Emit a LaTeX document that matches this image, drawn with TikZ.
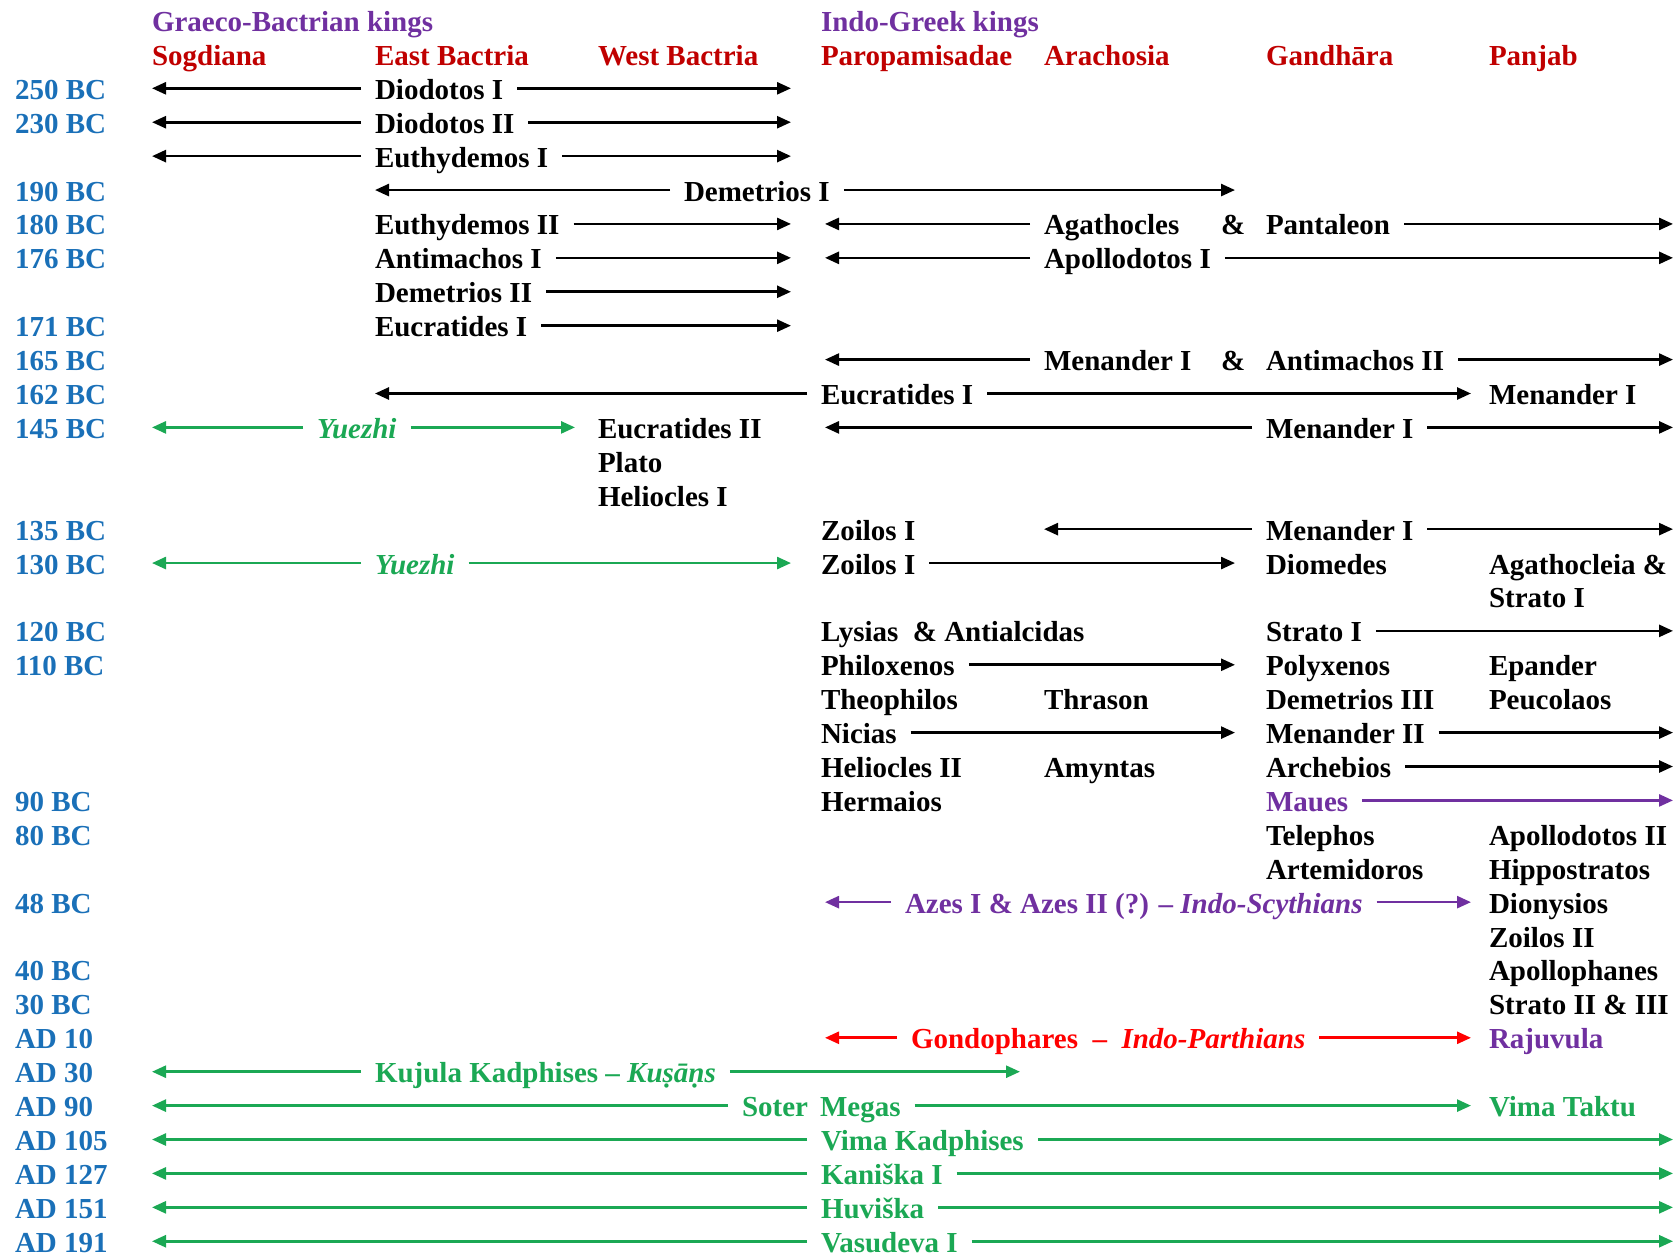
\documentclass[tikz,border=0pt]{standalone}
\usepackage{fontspec}
\setmainfont{Liberation Serif}
\usetikzlibrary{arrows.meta}
\definecolor{dateblue}{HTML}{1A70B8}
\definecolor{hdrred}{HTML}{C00000}
\definecolor{kpurple}{HTML}{7030A0}
\definecolor{kgreen}{HTML}{1BA854}
\definecolor{kred}{HTML}{FF0000}
\begin{document}
\begin{tikzpicture}[
  x=1pt, y=-33.91pt,
  every node/.style={inner sep=0pt, outer sep=0pt, text height=24pt, text depth=2pt,
    font=\fontsize{29}{35}\selectfont\bfseries, anchor=west},
  date/.style={text=dateblue},
  hdr/.style={text=hdrred},
  grp/.style={text=kpurple},
  gtxt/.style={text=kgreen},
  ptxt/.style={text=kpurple},
  rtxt/.style={text=kred},
  itx/.style={font=\fontsize{29}{35}\selectfont\bfseries\itshape},
  arr/.style={-{Triangle[length=14pt,width=12pt]}, line width=2.6pt, shorten <=14pt},
  garr/.style={arr, draw=kgreen},
  parr/.style={arr, draw=kpurple},
  rarr/.style={arr, draw=kred}
]
\path[use as bounding box] (0pt,0pt) rectangle (1680pt,-1256pt);
\begin{scope}[yshift=-88.3pt]
% arrow tip x positions
\coordinate (xA) at (152,0);
\coordinate (xB) at (375,0);
\coordinate (xC) at (575,0);
\coordinate (xD) at (791,0);
\coordinate (xE) at (825,0);
\coordinate (xF) at (1020,0);
\coordinate (xG) at (1044,0);
\coordinate (xH) at (1235,0);
\coordinate (xI) at (1471,0);
\coordinate (xJ) at (1673,0);

% headers
\node[grp] (hgb) at (152,-2) {Graeco-Bactrian kings};
\node[grp] (hig) at (821,-2) {Indo-Greek kings};
\node[hdr] (hso) at (152,-1) {Sogdiana};
\node[hdr] (heb) at (375,-1) {East Bactria};
\node[hdr] (hwb) at (598,-1) {West Bactria};
\node[hdr] (hpa) at (821,-1) {Paropamisadae};
\node[hdr] (har) at (1044,-1) {Arachosia};
\node[hdr] (hga) at (1266,-1) {Gandhāra};
\node[hdr] (hpj) at (1489,-1) {Panjab};

% dates
\node[date] (d0) at (15,0) {250 BC};
\node[date] (d1) at (15,1) {230 BC};
\node[date] (d3) at (15,3) {190 BC};
\node[date] (d4) at (15,4) {180 BC};
\node[date] (d5) at (15,5) {176 BC};
\node[date] (d7) at (15,7) {171 BC};
\node[date] (d8) at (15,8) {165 BC};
\node[date] (d9) at (15,9) {162 BC};
\node[date] (d10) at (15,10) {145 BC};
\node[date] (d13) at (15,13) {135 BC};
\node[date] (d14) at (15,14) {130 BC};
\node[date] (d16) at (15,16) {120 BC};
\node[date] (d17) at (15,17) {110 BC};
\node[date] (d21) at (15,21) {90 BC};
\node[date] (d22) at (15,22) {80 BC};
\node[date] (d24) at (15,24) {48 BC};
\node[date] (d26) at (15,26) {40 BC};
\node[date] (d27) at (15,27) {30 BC};
\node[date] (d28) at (15,28) {AD 10};
\node[date] (d29) at (15,29) {AD 30};
\node[date] (d30) at (15,30) {AD 90};
\node[date] (d31) at (15,31) {AD 105};
\node[date] (d32) at (15,32) {AD 127};
\node[date] (d33) at (15,33) {AD 151};
\node[date] (d34) at (15,34) {AD 191};

% rows 0-2
\node (a0) at (375,0) {Diodotos I};
\draw[arr] (a0.west) -- (a0.west -| xA);
\draw[arr] (a0.east) -- (a0.east -| xD);
\node (a1) at (375,1) {Diodotos II};
\draw[arr] (a1.west) -- (a1.west -| xA);
\draw[arr] (a1.east) -- (a1.east -| xD);
\node (a2) at (375,2) {Euthydemos I};
\draw[arr] (a2.west) -- (a2.west -| xA);
\draw[arr] (a2.east) -- (a2.east -| xD);

% row 3
\node (a3) at (684,3) {Demetrios I};
\draw[arr] (a3.west) -- (a3.west -| xB);
\draw[arr] (a3.east) -- (a3.east -| xH);

% row 4
\node (a4) at (375,4) {Euthydemos II};
\draw[arr] (a4.east) -- (a4.east -| xD);
\node (b4) at (1044,4) {Agathocles};
\node (c4) at (1221,4) {\&};
\node (e4) at (1266,4) {Pantaleon};
\draw[arr] (b4.west) -- (b4.west -| xE);
\draw[arr] (e4.east) -- (e4.east -| xJ);

% row 5
\node (a5) at (375,5) {Antimachos I};
\draw[arr] (a5.east) -- (a5.east -| xD);
\node (b5) at (1044,5) {Apollodotos I};
\draw[arr] (b5.west) -- (b5.west -| xE);
\draw[arr] (b5.east) -- (b5.east -| xJ);

% row 6, 7
\node (a6) at (375,6) {Demetrios II};
\draw[arr] (a6.east) -- (a6.east -| xD);
\node (a7) at (375,7) {Eucratides I};
\draw[arr] (a7.east) -- (a7.east -| xD);

% row 8
\node (b8) at (1044,8) {Menander I};
\node (c8) at (1221,8) {\&};
\node (e8) at (1266,8) {Antimachos II};
\draw[arr] (b8.west) -- (b8.west -| xE);
\draw[arr] (e8.east) -- (e8.east -| xJ);

% row 9
\node (a9) at (821,9) {Eucratides I};
\draw[arr] (a9.west) -- (a9.west -| xB);
\draw[arr] (a9.east) -- (a9.east -| xI);
\node (f9) at (1489,9) {Menander I};

% row 10-12
\node[gtxt, itx] (y10) at (317,10) {Yuezhi};
\draw[garr] (y10.west) -- (y10.west -| xA);
\draw[garr] (y10.east) -- (y10.east -| xC);
\node (a10) at (598,10) {Eucratides II};
\node (e10) at (1266,10) {Menander I};
\draw[arr] (e10.west) -- (e10.west -| xE);
\draw[arr] (e10.east) -- (e10.east -| xJ);
\node (a11) at (598,11) {Plato};
\node (a12) at (598,12) {Heliocles I};

% row 13
\node (a13) at (821,13) {Zoilos I};
\node (e13) at (1266,13) {Menander I};
\draw[arr] (e13.west) -- (e13.west -| xG);
\draw[arr] (e13.east) -- (e13.east -| xJ);

% row 14-15
\node[gtxt, itx] (y14) at (375,14) {Yuezhi};
\draw[garr] (y14.west) -- (y14.west -| xA);
\draw[garr] (y14.east) -- (y14.east -| xD);
\node (a14) at (821,14) {Zoilos I};
\draw[arr] (a14.east) -- (a14.east -| xH);
\node (e14) at (1266,14) {Diomedes};
\node (f14) at (1489,14) {Agathocleia \&};
\node (f15) at (1489,15) {Strato I};

% row 16
\node (a16) at (821,16) {Lysias\ \ \& Antialcidas};
\node (e16) at (1266,16) {Strato I};
\draw[arr] (e16.east) -- (e16.east -| xJ);

% row 17
\node (a17) at (821,17) {Philoxenos};
\draw[arr] (a17.east) -- (a17.east -| xH);
\node (e17) at (1266,17) {Polyxenos};
\node (f17) at (1489,17) {Epander};

% row 18
\node (a18) at (821,18) {Theophilos};
\node (b18) at (1044,18) {Thrason};
\node (e18) at (1266,18) {Demetrios III};
\node (f18) at (1489,18) {Peucolaos};

% row 19
\node (a19) at (821,19) {Nicias};
\draw[arr] (a19.east) -- (a19.east -| xH);
\node (e19) at (1266,19) {Menander II};
\draw[arr] (e19.east) -- (e19.east -| xJ);

% row 20
\node (a20) at (821,20) {Heliocles II};
\node (b20) at (1044,20) {Amyntas};
\node (e20) at (1266,20) {Archebios};
\draw[arr] (e20.east) -- (e20.east -| xJ);

% row 21
\node (a21) at (821,21) {Hermaios};
\node[ptxt] (e21) at (1266,21) {Maues};
\draw[parr] (e21.east) -- (e21.east -| xJ);

% row 22-23
\node (e22) at (1266,22) {Telephos};
\node (f22) at (1489,22) {Apollodotos II};
\node (e23) at (1266,23) {Artemidoros};
\node (f23) at (1489,23) {Hippostratos};

% row 24
\node[ptxt] (a24) at (905,24) {Azes I \& Azes II (?) – \textit{Indo-Scythians}};
\draw[parr] (a24.west) -- (a24.west -| xE);
\draw[parr] (a24.east) -- (a24.east -| xI);
\node (f24) at (1489,24) {Dionysios};

% rows 25-27
\node (f25) at (1489,25) {Zoilos II};
\node (f26) at (1489,26) {Apollophanes};
\node (f27) at (1489,27) {Strato II \& III};

% row 28
\node[rtxt] (a28) at (911,28) {Gondophares\ \ –\ \ \textit{Indo-Parthians}};
\draw[rarr] (a28.west) -- (a28.west -| xE);
\draw[rarr] (a28.east) -- (a28.east -| xI);
\node[ptxt] (f28) at (1489,28) {Rajuvula};

% row 29
\node[gtxt] (a29) at (375,29) {Kujula Kadphises – \textit{Kuṣāṇs}};
\draw[garr] (a29.west) -- (a29.west -| xA);
\draw[garr] (a29.east) -- (a29.east -| xF);

% row 30
\node[gtxt] (a30) at (742,30) {Soter\hspace{12pt}Megas};
\draw[garr] (a30.west) -- (a30.west -| xA);
\draw[garr] (a30.east) -- (a30.east -| xI);
\node[gtxt] (f30) at (1489,30) {Vima Taktu};

% rows 31-34
\node[gtxt] (a31) at (821,31) {Vima Kadphises};
\draw[garr] (a31.west) -- (a31.west -| xA);
\draw[garr] (a31.east) -- (a31.east -| xJ);
\node[gtxt] (a32) at (821,32) {Kaniška I};
\draw[garr] (a32.west) -- (a32.west -| xA);
\draw[garr] (a32.east) -- (a32.east -| xJ);
\node[gtxt] (a33) at (821,33) {Huviška};
\draw[garr] (a33.west) -- (a33.west -| xA);
\draw[garr] (a33.east) -- (a33.east -| xJ);
\node[gtxt] (a34) at (821,34) {Vasudeva I};
\draw[garr] (a34.west) -- (a34.west -| xA);
\draw[garr] (a34.east) -- (a34.east -| xJ);
\end{scope}
\end{tikzpicture}
\end{document}
